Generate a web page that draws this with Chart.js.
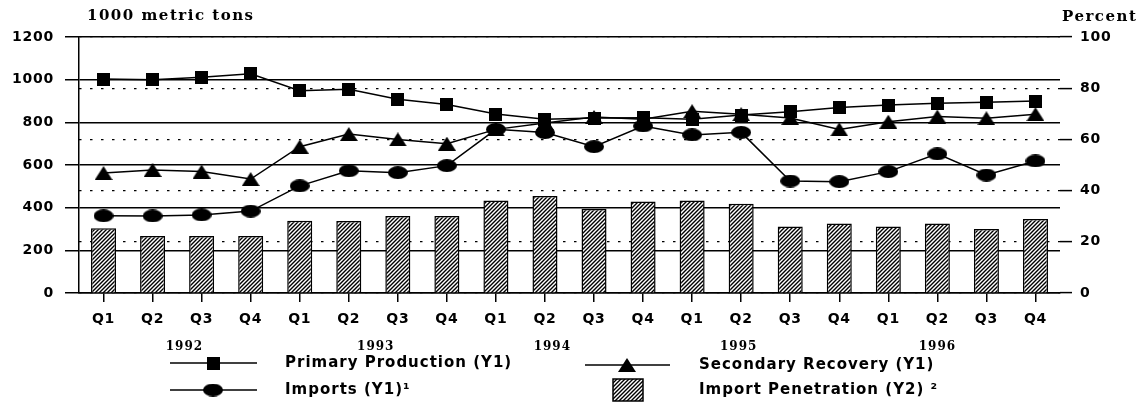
<!DOCTYPE html>
<html>
<head>
<meta charset="utf-8">
<script src="https://cdn.jsdelivr.net/npm/chart.js@4.4.1/dist/chart.umd.min.js"></script>
<style>
  html, body { margin: 0; padding: 0; background: #fff; }
  #wrap { width: 1145px; height: 405px; position: relative; }
</style>
</head>
<body>
<div id="wrap"><canvas id="c" width="1145" height="405"></canvas></div>
<script>
// ---- Data ----
const categories = ['Q1','Q2','Q3','Q4','Q1','Q2','Q3','Q4','Q1','Q2','Q3','Q4','Q1','Q2','Q3','Q4','Q1','Q2','Q3','Q4'];
const years = ['1992','1993','1994','1995','1996'];
const primaryProduction = [1003, 1000, 1011, 1028, 948, 955, 908, 884, 839, 814, 820, 822, 815, 834, 850, 869, 881, 889, 894, 900];
const secondaryRecovery = [562, 577, 569, 534, 686, 745, 720, 700, 767, 797, 825, 815, 852, 838, 820, 767, 803, 827, 819, 838];
const imports = [362, 361, 366, 384, 502, 573, 564, 597, 767, 752, 686, 783, 741, 753, 525, 522, 569, 652, 553, 619];
const importPenetration = [25.3, 22.3, 22.3, 22.3, 28.2, 28.1, 30.1, 30.1, 36.1, 37.9, 32.8, 35.7, 36.1, 34.9, 26.0, 27.1, 26.0, 27.1, 25.0, 28.9];
const leftTicks = [0, 200, 400, 600, 800, 1000, 1200];
const rightTicks = [0, 20, 40, 60, 80, 100];
const seriesLabels = ['Primary Production (Y1)', 'Secondary Recovery (Y1)', 'Imports (Y1)\u00B9', 'Import Penetration (Y2) \u00B2'];
const leftTitle = '1000 metric tons';
const rightTitle = 'Percent';

// ---- Marker and pattern images ----
function mk(w, h, draw) {
  const c = document.createElement('canvas'); c.width = w; c.height = h;
  const g = c.getContext('2d'); g.fillStyle = '#000'; draw(g, w, h); return c;
}
const squareImg = mk(13, 13, (g, w, h) => g.fillRect(0, 0, w, h));
const ellipseImg = mk(20, 13, (g, w, h) => { g.beginPath(); g.ellipse(w/2, h/2, w/2, h/2, 0, 0, Math.PI*2); g.fill(); });
const triangleImg = mk(18, 14, (g, w, h) => { g.beginPath(); g.moveTo(w/2, 0); g.lineTo(w, h); g.lineTo(0, h); g.closePath(); g.fill(); });
const hatch = (() => {
  const c = document.createElement('canvas'); c.width = 4; c.height = 4;
  const g = c.getContext('2d');
  g.fillStyle = '#fff'; g.fillRect(0, 0, 4, 4);
  g.strokeStyle = '#000'; g.lineWidth = 1.4;
  g.beginPath();
  g.moveTo(0, 4); g.lineTo(4, 0);
  g.moveTo(-1, 1); g.lineTo(1, -1);
  g.moveTo(3, 5); g.lineTo(5, 3);
  g.stroke();
  return document.getElementById('c').getContext('2d').createPattern(c, 'repeat');
})();

// ---- Plugins ----
const spacingPlugin = {
  id: 'spacing',
  beforeLayout(chart) { chart.ctx.letterSpacing = '0.75px'; },
  beforeDraw(chart) { chart.ctx.letterSpacing = '0.75px'; }
};

const decorPlugin = {
  id: 'decor',
  afterDraw(chart, args, opts) {
    const ctx = chart.ctx;
    const x = chart.scales.x;
    ctx.save();
    ctx.fillStyle = '#000';
    ctx.textBaseline = 'middle';
    // axis titles
    ctx.font = 'bold 15px "DejaVu Serif"';
    ctx.letterSpacing = '1.5px';
    ctx.textAlign = 'left';
    ctx.fillText(leftTitle, opts.leftTitle.x, opts.leftTitle.y);
    ctx.fillText(rightTitle, opts.rightTitle.x, opts.rightTitle.y);
    // year labels
    ctx.font = 'bold 12px "DejaVu Serif"';
    ctx.letterSpacing = '1px';
    ctx.textAlign = 'center';
    years.forEach((yr, i) => ctx.fillText(yr, x.getPixelForValue(opts.yearAnchors[i]), opts.yearY));
    // legend
    ctx.font = 'bold 15px "DejaVu Sans"';
    ctx.letterSpacing = '1px';
    ctx.textAlign = 'left';
    opts.items.forEach(it => {
      const ds = chart.data.datasets[it.ds];
      if (ds.type === 'bar') {
        ctx.fillStyle = hatch;
        ctx.fillRect(it.mx - 15, it.y - 11, 30, 22);
        ctx.lineWidth = 1.5; ctx.strokeStyle = '#000';
        ctx.strokeRect(it.mx - 15, it.y - 11, 30, 22);
      } else {
        ctx.strokeStyle = '#000'; ctx.lineWidth = 1.5;
        ctx.beginPath(); ctx.moveTo(it.x0, it.y); ctx.lineTo(it.x1, it.y); ctx.stroke();
        const img = ds.pointStyle;
        ctx.drawImage(img, it.mx - img.width/2, it.y - img.height/2);
      }
      ctx.fillStyle = '#000';
      ctx.fillText(ds.label, it.tx, it.y);
    });
    ctx.restore();
  }
};

const tickFont = { family: 'DejaVu Sans', weight: 'bold', size: 14 };

new Chart(document.getElementById('c'), {
  data: {
    labels: categories,
    datasets: [
      { type: 'line', label: seriesLabels[0], data: primaryProduction, yAxisID: 'y', order: 1,
        borderColor: '#000', borderWidth: 1.5, pointStyle: squareImg, pointRadius: 7, tension: 0 },
      { type: 'line', label: seriesLabels[1], data: secondaryRecovery, yAxisID: 'y', order: 1,
        borderColor: '#000', borderWidth: 1.5, pointStyle: triangleImg, pointRadius: 7, tension: 0 },
      { type: 'line', label: seriesLabels[2], data: imports, yAxisID: 'y', order: 1,
        borderColor: '#000', borderWidth: 1.5, pointStyle: ellipseImg, pointRadius: 7, tension: 0 },
      { type: 'bar', label: seriesLabels[3], data: importPenetration, yAxisID: 'y2', order: 10,
        backgroundColor: hatch, borderColor: '#000', borderWidth: 1.5,
        barPercentage: 0.51, categoryPercentage: 1 }
    ]
  },
  options: {
    responsive: false,
    animation: false,
    layout: { padding: { top: 37, left: 0, right: 0, bottom: 0 } },
    plugins: {
      legend: { display: false },
      tooltip: { enabled: false },
      decor: {
        leftTitle: { x: 87, y: 16 },
        rightTitle: { x: 1062, y: 17 },
        yearAnchors: [1.65, 5.55, 9.15, 12.95, 17.0],
        yearY: 347,
        items: [
          { ds: 0, x0: 170, x1: 257, mx: 213, tx: 285, y: 363 },
          { ds: 1, x0: 585, x1: 670, mx: 627, tx: 699, y: 365 },
          { ds: 2, x0: 170, x1: 257, mx: 213, tx: 285, y: 390 },
          { ds: 3, mx: 628, tx: 699, y: 390 }
        ]
      }
    },
    scales: {
      x: {
        type: 'category',
        offset: true,
        grid: { display: true, drawOnChartArea: false, drawTicks: true, tickLength: 9, color: '#000', lineWidth: 1.5, offset: false },
        border: { display: true, color: '#000', width: 1.5 },
        ticks: { color: '#000', font: tickFont, padding: 9, maxRotation: 0, autoSkip: false },
        afterFit: s => { s.height = 112; }
      },
      y: {
        position: 'left',
        min: 0, max: 1200,
        afterBuildTicks: s => { s.ticks = leftTicks.map(v => ({ value: v })); },
        grid: { color: '#000', lineWidth: 1.5, tickLength: 14 },
        border: { display: true, color: '#000', width: 1.5 },
        ticks: { color: '#000', font: tickFont, padding: 11, callback: v => String(v) },
        afterFit: s => { s.width = 79; }
      },
      y2: {
        position: 'right',
        min: 0, max: 100,
        afterBuildTicks: s => { s.ticks = rightTicks.map(v => ({ value: v })); },
        grid: { color: '#000', lineWidth: 1.2, tickLength: 12, borderDash: [2.5, 8.5], tickBorderDash: [], tickWidth: 1.5 },
        border: { display: false, dash: [2.5, 8.5] },
        ticks: { color: '#000', font: tickFont, padding: 8, callback: v => String(v) },
        afterFit: s => { s.width = 85; }
      }
    }
  },
  plugins: [spacingPlugin, decorPlugin]
});
</script>
</body>
</html>
